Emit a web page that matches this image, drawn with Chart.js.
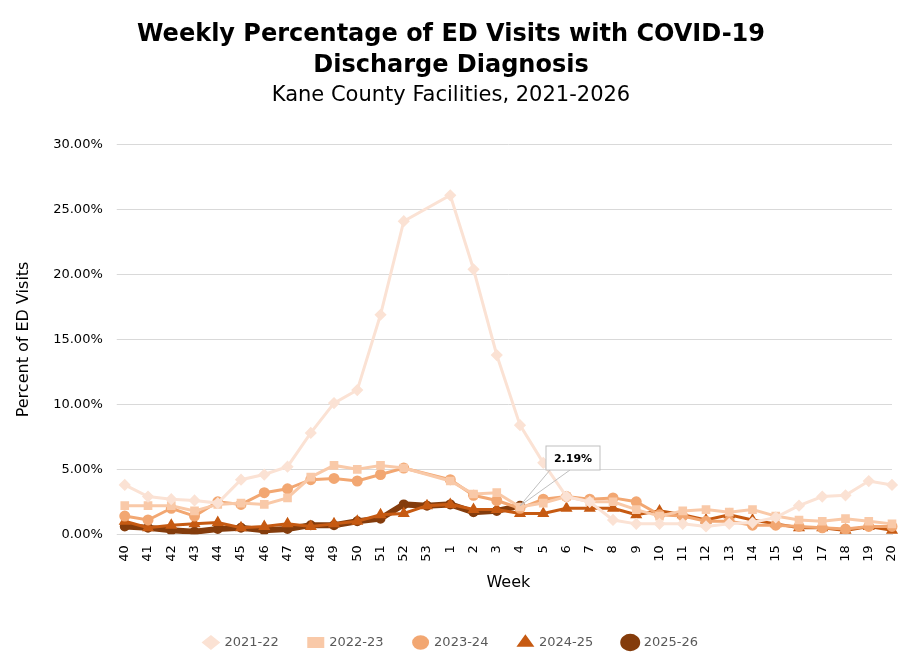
<!DOCTYPE html>
<html>
<head>
<meta charset="utf-8">
<script src="https://cdn.jsdelivr.net/npm/chart.js@4"></script>
<style>
  body { margin: 0; background: #fff; }
  #wrap { width: 917px; height: 667px; }
</style>
</head>
<body>
<div id="wrap"><canvas id="chart" width="917" height="667"></canvas></div>
<script>
// 주차 라벨
const weeks = ['40','41','42','43','44','45','46','47','48','49','50','51','52','53',
  '1','2','3','4','5','6','7','8','9','10','11','12','13','14','15','16','17','18','19','20'];

// 시즌별 값 (%)
const s2122 = [3.8,2.9,2.7,2.6,2.4,4.2,4.6,5.2,7.8,10.1,11.1,16.9,24.1,null,26.1,20.4,13.8,8.4,5.5,2.9,2.5,1.1,0.8,0.8,0.8,0.6,0.8,0.9,1.3,2.2,2.9,3.0,4.1,3.8];
const s2223 = [2.2,2.2,2.2,1.8,2.3,2.4,2.3,2.8,4.4,5.3,5.0,5.3,5.1,null,4.1,3.1,3.2,2.1,2.4,2.9,2.5,2.5,1.9,1.4,1.8,1.9,1.7,1.9,1.4,1.1,1.0,1.2,1.0,0.8];
const s2324 = [1.4,1.1,2.0,1.4,2.5,2.3,3.2,3.5,4.2,4.3,4.1,4.6,5.1,null,4.2,3.0,2.6,2.0,2.7,2.9,2.7,2.8,2.5,1.5,1.4,1.0,1.0,0.7,0.7,0.6,0.5,0.4,0.6,0.6];
const s2425 = [1.0,0.5,0.7,0.8,0.9,0.5,0.6,0.8,0.6,0.8,1.0,1.5,1.6,2.2,2.3,1.9,1.9,1.6,1.6,2.0,2.0,2.0,1.5,1.8,1.5,1.1,1.5,1.1,0.8,0.5,0.5,0.3,0.6,0.3];
const s2526 = [0.6,0.5,0.3,0.2,0.4,0.5,0.3,0.4,0.7,0.7,1.0,1.2,2.3,2.2,2.3,1.7,1.8,2.19];

const FONT = 'Verdana, "DejaVu Sans", sans-serif';

// 마지막 값 말풍선
const calloutPlugin = {
  id: 'callout',
  afterDatasetsDraw(c) {
    const meta = c.getDatasetMeta(4);
    const pt = meta.data[s2526.length - 1];
    if (!pt) return;
    const ctx = c.ctx;
    const bx = 546, by = 446, bw = 54, bh = 24;
    ctx.save();
    ctx.strokeStyle = '#bfbfbf';
    ctx.lineWidth = 1;
    ctx.beginPath();
    ctx.moveTo(bx + 4, by + bh);
    ctx.lineTo(pt.x, pt.y);
    ctx.lineTo(bx + 24, by + bh);
    ctx.stroke();
    ctx.fillStyle = '#fff';
    ctx.fillRect(bx, by, bw, bh);
    ctx.strokeRect(bx, by, bw, bh);
    ctx.fillStyle = '#000';
    ctx.font = 'bold 11px ' + FONT;
    ctx.textAlign = 'center';
    ctx.textBaseline = 'middle';
    ctx.fillText('2.19%', bx + bw / 2, by + bh / 2 + 1);
    ctx.restore();
  }
};

function ds(label, data, color, style, width, radius) {
  return {
    label, data,
    borderColor: color, backgroundColor: color,
    pointStyle: style, pointRadius: radius, pointHoverRadius: radius,
    borderWidth: width, spanGaps: true, tension: 0
  };
}

new Chart(document.getElementById('chart'), {
  type: 'line',
  data: {
    labels: weeks,
    datasets: [
      ds('2021-22', s2122, '#fbe2d4', 'rectRot', 3, 4),
      ds('2022-23', s2223, '#f9c9a8', 'rect', 3, 4),
      ds('2023-24', s2324, '#f2a772', 'circle', 3, 4),
      ds('2024-25', s2425, '#c65a12', 'triangle', 3, 4),
      ds('2025-26', s2526, '#843c0c', 'circle', 6, 2)
    ]
  },
  options: {
    responsive: false,
    animation: false,
    layout: { padding: { left: 10, right: 25, top: 14, bottom: 8 } },
    plugins: {
      title: {
        display: true,
        text: ['Weekly Percentage of ED Visits with COVID-19', 'Discharge Diagnosis'],
        color: '#000',
        font: { family: FONT, size: 24, weight: 'bold', lineHeight: 1.3 },
        padding: { top: 5, bottom: 0 }
      },
      subtitle: {
        display: true,
        text: 'Kane County Facilities, 2021-2026',
        color: '#000',
        font: { family: FONT, size: 21 },
        padding: { top: 2, bottom: 36 }
      },
      legend: {
        position: 'bottom',
        labels: {
          color: '#595959',
          font: { family: FONT, size: 13 },
          usePointStyle: true,
          pointStyleWidth: 14,
          boxHeight: 8,
          padding: 30
        }
      },
      tooltip: { enabled: false }
    },
    scales: {
      x: {
        grid: { display: false },
        border: { color: '#d9d9d9' },
        ticks: { color: '#000', font: { family: FONT, size: 13 }, maxRotation: 90, minRotation: 90, autoSkip: false },
        title: { display: true, text: 'Week', color: '#000', font: { family: FONT, size: 16 }, padding: { top: 8, bottom: 14 } }
      },
      y: {
        min: 0, max: 30,
        ticks: { stepSize: 5, color: '#000', font: { family: FONT, size: 13 }, padding: 14, callback: v => v.toFixed(2) + '%' },
        grid: { color: '#d9d9d9' },
        border: { display: false },
        title: { display: true, text: 'Percent of ED Visits', color: '#000', font: { family: FONT, size: 16 }, padding: { bottom: 6 } }
      }
    }
  },
  plugins: [calloutPlugin]
});
</script>
</body>
</html>
